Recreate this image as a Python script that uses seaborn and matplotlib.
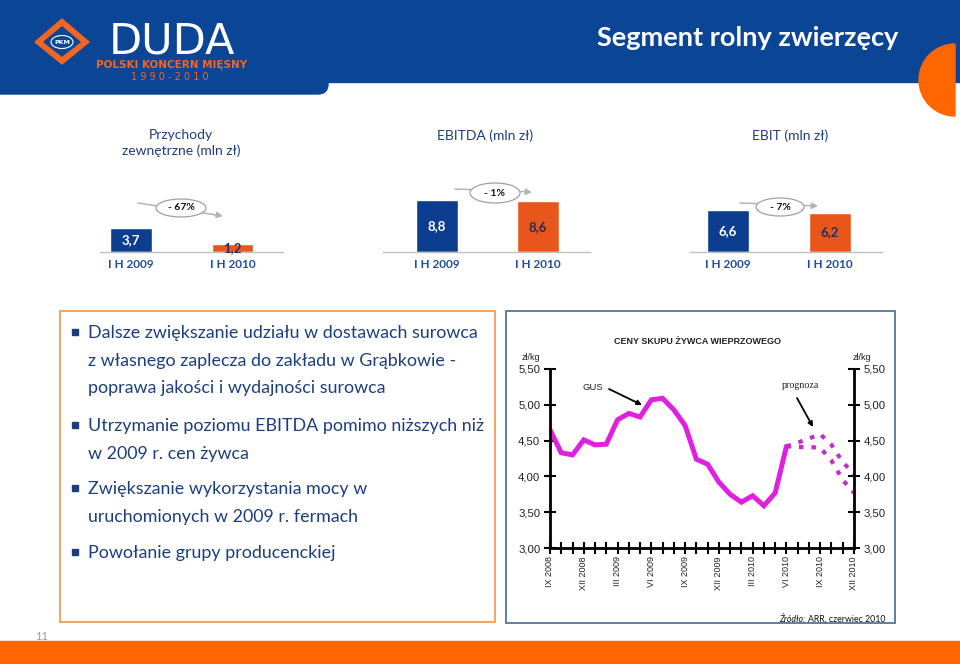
import numpy as np
import pandas as pd
import matplotlib
matplotlib.use('Agg')
import matplotlib.pyplot as plt
import matplotlib.patches as mpatches
import seaborn as sns

# slide data
periods = ['I H 2009', 'I H 2010']
revenue = [3.7, 1.2]
ebitda = [8.8, 8.6]
ebit = [6.6, 6.2]
panel_titles = ['Przychody\nzewnętrzne (mln zł)', 'EBITDA (mln zł)', 'EBIT (mln zł)']
changes = ['- 67%', '- 1%', '- 7%']

bullets = [
    'Dalsze zwiększanie udziału w dostawach surowca\nz własnego zaplecza do zakładu w Grąbkowie -\npoprawa jakości i wydajności surowca',
    'Utrzymanie poziomu EBITDA pomimo niższych niż\nw 2009 r. cen żywca',
    'Zwiększanie wykorzystania mocy w\nuruchomionych w 2009 r. fermach',
    'Powołanie grupy producenckiej',
]

# pig price chart (zł/kg), monthly IX 2008 .. XII 2010
month_ticks = ['IX 2008', 'XII 2008', 'III 2009', 'VI 2009', 'IX 2009', 'XII 2009',
               'III 2010', 'VI 2010', 'IX 2010', 'XII 2010']
gus_price = [4.65, 4.33, 4.30, 4.51, 4.44, 4.45, 4.79, 4.88, 4.83, 5.07, 5.09,
             4.93, 4.71, 4.24, 4.17, 3.92, 3.75, 3.64, 3.73, 3.59, 3.77, 4.42]
forecast_high = [4.42, 4.47, 4.53, 4.59, 4.44, 4.20, 4.03]
forecast_low = [4.42, 4.41, 4.41, 4.40, 4.22, 3.95, 3.77]
price_ticks = [3.0, 3.5, 4.0, 4.5, 5.0, 5.5]

BLUE = '#0b4596'
BAR_BLUE = '#0d3d8e'
BAR_ORANGE = '#e8561b'
ORANGE = '#ff6600'
TXT = '#1c3f7c'
MAGENTA = '#e020e0'
PURPLE = '#c030c8'

sns.set_theme(style='white')
plt.rcParams['font.family'] = ['Lato', 'DejaVu Sans']

W, H = 960, 664
fig = plt.figure(figsize=(9.6, 6.64), dpi=100)


def px_axes(x0, y0, x1, y1, **kw):
    return fig.add_axes([x0 / W, 1 - y1 / H, (x1 - x0) / W, (y1 - y0) / H], **kw)


# --- small bar charts ---
panels = [
    (revenue, (100, 283), (130.5, 232.5), 6.6),
    (ebitda, (383, 590), (436.5, 538), 5.9),
    (ebit, (690, 882), (727.5, 830), 6.35),
]
base_y = 252
for (vals, (lx, rx), (c0, c1), ppu), title, ch in zip(panels, panel_titles, changes):
    ax = px_axes(lx, base_y - 90, rx, base_y)
    step = c1 - c0
    sns.barplot(x=periods, y=vals, hue=periods, palette=[BAR_BLUE, BAR_ORANGE],
                legend=False, width=42 / step, saturation=1, ax=ax)
    ax.set_xlim(-(c0 - lx) / step, (rx - c0) / step)
    ax.set_ylim(0, 90 / ppu)
    for s in ['top', 'left', 'right']:
        ax.spines[s].set_visible(False)
    ax.spines['bottom'].set_color('#bfbfbf')
    ax.spines['bottom'].set_linewidth(1)
    ax.set_yticks([])
    ax.set_xlabel('')
    ax.set_ylabel('')
    ax.tick_params(axis='x', length=0, pad=5)
    for lab in ax.get_xticklabels():
        lab.set_fontweight('bold')
        lab.set_fontsize(8.5)
        lab.set_color('#1f4e9a')
    for i, v in enumerate(vals):
        ax.text(i, v / 2, f'{v:.1f}'.replace('.', ','), ha='center', va='center',
                fontsize=9.5, fontweight='bold',
                color='white' if i == 0 else '#26305a')
    ax.patch.set_alpha(0)

# --- pig price chart ---
lax = px_axes(550, 369, 854, 548)
n_months = 28
sns.lineplot(x=np.arange(len(gus_price)), y=gus_price, ax=lax, color=MAGENTA, lw=3.6,
             solid_joinstyle='miter')
start = len(gus_price) - 1
for fc in (forecast_high, forecast_low):
    sns.lineplot(x=np.arange(start, start + len(fc)), y=fc, ax=lax, color=PURPLE, lw=3,
                 linestyle=(0, (1.1, 1.9)))
lax.set_xlim(0, n_months - 1)
lax.set_ylim(price_ticks[0], price_ticks[-1])
lax.set_yticks(price_ticks)
lax.set_yticklabels([f'{t:.2f}'.replace('.', ',') for t in price_ticks],
                    family='Liberation Sans', fontsize=8.2, color='#222222')
xt = np.arange(n_months)
lax.set_xticks(xt)
lax.set_xticklabels([month_ticks[i // 3] if i % 3 == 0 else '' for i in xt],
                    rotation=90, family='Liberation Sans', fontsize=6.5, color='#222222')
lax.tick_params(axis='y', which='both', left=True, right=True, labelleft=True, labelright=True,
                direction='inout', length=8, width=1.5, color='black', pad=3)
lax.tick_params(axis='x', bottom=True, direction='inout', length=8, width=1.5,
                color='black', pad=2)
lax.spines['top'].set_visible(False)
for s in ['left', 'right', 'bottom']:
    lax.spines[s].set_color('black')
    lax.spines[s].set_linewidth(2)
lax.set_xlabel('')
lax.set_ylabel('')
lax.patch.set_alpha(0)

# --- overlay for slide decoration ---
ov = fig.add_axes([0, 0, 1, 1], zorder=20)
ov.set_xlim(0, W)
ov.set_ylim(H, 0)
ov.axis('off')
ov.patch.set_alpha(0)

# header
ov.add_patch(mpatches.Rectangle((0, 0), W, 82, color=BLUE, zorder=1))
ov.add_patch(mpatches.FancyBboxPatch((-30, -30), 358, 124,
                                     boxstyle='round,pad=0,rounding_size=10',
                                     color=BLUE, zorder=1))
ov.add_patch(mpatches.Wedge((955, 80), 36, 90, 270, color=ORANGE, zorder=2))
ov.text(748, 38, 'Segment rolny zwierzęcy', color='white', fontsize=19.5,
        fontweight='bold', ha='center', va='center', zorder=3)

# logo
ov.add_patch(mpatches.Polygon([(35, 42), (62, 19), (89, 42), (62, 64)], closed=True,
                              color='#f26522', zorder=3))
ov.add_patch(mpatches.Polygon([(44, 42), (62, 27), (80, 42), (62, 56)], closed=True,
                              color=BLUE, zorder=4))
ov.add_patch(mpatches.Ellipse((62, 42), 22, 13, fc='none', ec='white', lw=0.8, zorder=5))
ov.text(62, 42.5, 'PKM', color='white', fontsize=4.5, fontweight='bold',
        ha='center', va='center', zorder=6, family='DejaVu Sans')
ov.text(172, 54, 'DUDA', color='white', fontsize=31, ha='center', va='baseline',
        family='DejaVu Sans', zorder=3)
ov.text(172, 65, 'POLSKI KONCERN MIĘSNY', color='#f26522', fontsize=7.5,
        fontweight='bold', ha='center', va='center', family='DejaVu Sans', zorder=3)
ov.text(170, 77, '1 9 9 0 - 2 0 1 0', color='#f26522', fontsize=7,
        ha='center', va='center', family='DejaVu Sans', zorder=3)

# panel titles
for x, t in zip([181, 485, 790], panel_titles):
    ov.text(x, 129, t, color=TXT, fontsize=10, ha='center', va='top', linespacing=1.3)

# change arrows with ellipses
arrows = [((138, 203), (223, 216), (181, 208), 50, 18),
          ((455, 189), (532, 192), (495, 193), 50, 20),
          ((740, 203), (818, 206), (780, 207), 48, 18)]
for (p0, p1, c, ew, eh), ch in zip(arrows, changes):
    ov.annotate('', xy=p1, xytext=p0,
                arrowprops=dict(arrowstyle='-|>', color='#b4b4b4', lw=1.1,
                                mutation_scale=9, shrinkA=0, shrinkB=0), zorder=2)
    ov.add_patch(mpatches.Ellipse(c, ew, eh, fc='white', ec='#a0a0a0', lw=0.9, zorder=3))
    ov.text(c[0], c[1], ch, fontsize=7.5, fontweight='bold', color='#111111',
            ha='center', va='center', zorder=4)

# left bullet box
ov.add_patch(mpatches.Rectangle((60, 311), 435, 311, fc='none', ec='#f5a35c', lw=1.4))
bullet_y = [332, 425, 488, 552]
for y, t in zip(bullet_y, bullets):
    ov.add_patch(mpatches.Rectangle((72, y - 3), 6, 6, color=TXT))
    ov.text(88, y - 7, t, fontsize=12.9, color=TXT, ha='left', va='top',
            linespacing=1.9)

# right chart box
ov.add_patch(mpatches.Rectangle((506, 311), 389, 312, fc='none', ec='#5f7fa3', lw=1.4))
ov.text(698, 342, 'CENY SKUPU ŻYWCA WIEPRZOWEGO', fontsize=6.5, fontweight='bold',
        family='Liberation Sans', ha='center', va='center', color='#222222')
ov.text(531, 357, 'zł/kg', fontsize=6.5, family='Liberation Sans', ha='center',
        va='center', color='#222222')
ov.text(862, 357, 'zł/kg', fontsize=6.5, family='Liberation Sans', ha='center',
        va='center', color='#222222')
ov.text(593, 387, 'GUS', fontsize=6.8, family='Liberation Sans', ha='center',
        va='center', color='#222222')
ov.annotate('', xy=(642, 405), xytext=(609, 389),
            arrowprops=dict(arrowstyle='-|>', color='black', lw=1.3, mutation_scale=7,
                            shrinkA=0, shrinkB=0))
ov.text(801, 386, 'prognoza', fontsize=7.2, family='Liberation Serif', ha='center',
        va='center', color='#222222')
ov.annotate('', xy=(813, 427), xytext=(797, 398),
            arrowprops=dict(arrowstyle='-|>', color='black', lw=1.3, mutation_scale=7,
                            shrinkA=0, shrinkB=0))
ov.text(779, 619, 'Źródło:', fontsize=6.3, style='italic', ha='left', va='center',
        color='#111111')
ov.text(808, 619, 'ARR, czerwiec 2010', fontsize=6.3, ha='left', va='center',
        color='#111111')

# footer
ov.text(42, 636, '11', fontsize=8, color='#9a9a9a', ha='center', va='center')
ov.add_patch(mpatches.Rectangle((0, 641), W, 23, color=ORANGE))

fig.savefig('out.png', dpi=100)
